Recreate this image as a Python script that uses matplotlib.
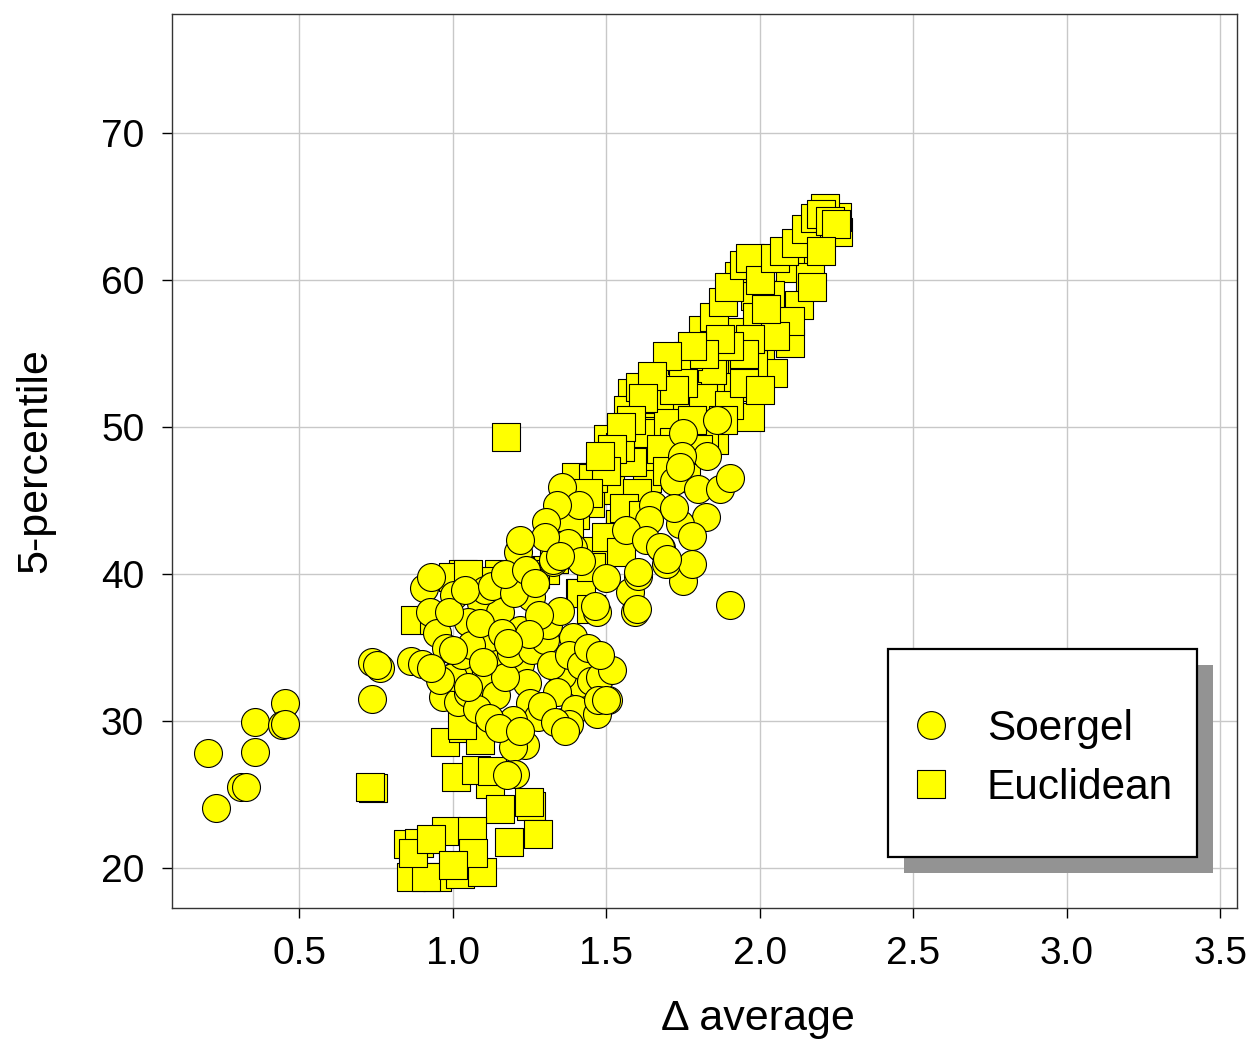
import matplotlib
matplotlib.use("Agg")
import matplotlib.pyplot as plt
from matplotlib.patches import Rectangle
from matplotlib.lines import Line2D

plt.rcParams['font.family'] = ['Liberation Sans', 'DejaVu Sans']

# Soergel (circles)
soergel_x = [0.205, 0.23, 0.312, 0.327, 0.358, 0.358, 0.455, 0.444, 0.455, 0.738, 0.763, 0.738, 0.755,
             0.866, 0.902, 0.907, 0.929, 0.926, 1.005, 1.094, 1.154, 1.105, 1.051, 1.138, 1.122, 1.219,
             1.07, 1.018, 0.969, 1.018, 1.051, 1.241, 1.252, 1.277, 1.198, 1.236, 1.198, 1.203, 1.176,
             1.361, 1.393, 1.464, 1.507, 1.448, 1.415, 1.355, 1.469, 1.578, 1.605, 1.5, 1.68, 1.393,
             1.594, 1.214, 1.328, 1.225, 1.257, 1.219,
             0.95, 0.98, 1.0, 1.03, 1.06, 1.09, 1.11, 1.14, 1.17, 1.19, 1.08, 1.12, 1.15, 1.22, 1.26,
             1.3, 1.32, 1.34, 1.29, 1.31, 1.35, 1.28, 1.38, 1.42, 1.45, 1.4, 1.38, 1.44, 1.48, 1.52,
             1.47, 0.96, 0.93, 1.0, 1.16, 1.25, 1.1, 1.05, 0.99, 1.04, 1.13, 1.2, 1.17, 1.24, 1.27,
             1.18, 1.334, 1.366, 1.474, 1.5, 1.48,
             1.358, 1.413, 1.341, 1.306, 1.377, 1.328, 1.42, 1.605, 1.464, 1.86, 1.75, 1.828, 1.746,
             1.721, 1.8, 1.872, 1.904, 1.652, 1.826, 1.741, 1.779, 1.641, 1.565, 1.629, 1.676, 1.752,
             1.694, 1.779, 1.904, 1.6, 1.7, 1.72, 1.74, 1.3, 1.35, 1.22]
soergel_y = [27.8, 24.1, 25.5, 25.5, 27.9, 29.9, 31.2, 29.7, 29.8, 34.0, 33.6, 31.5, 33.8,
             34.1, 33.9, 39.07, 39.8, 37.4, 38.6, 38.0, 37.4, 38.9, 36.75, 34.7, 35.7, 33.9,
             33.5, 33.35, 31.65, 31.3, 31.9, 32.6, 31.2, 30.3, 30.1, 28.4, 28.25, 26.4, 26.3,
             29.95, 35.7, 34.25, 31.4, 31.2, 32.6, 33.1, 37.4, 38.8, 39.9, 39.7, 41.75, 41.75,
             37.4, 41.5, 40.8, 39.9, 38.45, 36.2,
             36.0, 35.0, 33.0, 34.5, 35.2, 36.7, 32.5, 31.8, 33.0, 34.6, 30.8, 30.2, 29.5, 29.3, 34.8,
             35.5, 33.8, 32.0, 31.0, 36.5, 37.5, 37.2, 34.5, 33.8, 32.7, 30.8, 29.8, 35.0, 33.0, 33.5,
             30.5, 32.8, 33.6, 34.8, 36.0, 35.9, 34.0, 32.3, 37.4, 38.9, 39.2, 38.7, 40.0, 40.3, 39.4,
             35.3, 29.9, 29.3, 31.4, 31.4, 34.5,
             45.9, 44.7, 44.7, 43.55, 42.1, 40.95, 40.9, 40.15, 37.8, 50.5, 49.6, 48.0, 48.0,
             46.3, 45.8, 45.8, 46.5, 44.7, 43.9, 43.4, 42.6, 43.7, 43.0, 42.3, 41.85, 39.55,
             40.7, 40.7, 37.9, 37.6, 41.0, 44.5, 47.3, 42.5, 41.2, 42.3]

# Euclidean (squares)
euclid_x = [0.741, 0.73, 0.977, 1.035, 1.011, 1.122, 1.154, 1.256, 1.185, 1.277, 0.855, 0.89,
            0.98, 1.062, 0.866, 0.95, 1.024, 1.095, 1.066, 0.915, 0.87, 0.93, 1.0, 1.078, 1.089,
            1.13, 1.03, 1.25, 0.877, 1.035, 1.0, 0.94, 1.415,
            1.174,
            1.703, 1.893, 1.759, 1.67, 1.969, 1.507, 1.589, 1.462, 1.632, 1.545, 1.442, 1.42,
            2.257, 2.195, 2.252, 2.214, 2.143, 2.1, 2.165, 1.934, 2.035, 1.986, 2.127, 1.931,
            1.815, 1.991, 2.072, 1.893, 1.85, 2.002, 2.1, 1.763, 1.806, 1.926, 2.045, 1.747,
            1.81, 1.98, 1.839, 1.583, 1.573, 1.665, 1.611, 1.545, 1.654, 1.403, 1.513, 1.448,
            1.545, 1.371, 1.469, 1.844, 1.768, 1.676, 1.763, 1.817, 1.611, 1.638, 1.703, 1.85,
            1.584, 1.459, 1.545,
            1.85, 1.88, 1.9, 1.95, 1.97, 2.0, 2.05, 2.08, 2.12, 2.15, 2.18, 2.2, 2.23, 2.25, 2.2,
            2.17, 2.1, 2.05, 2.02, 1.97, 1.95, 1.9, 1.87, 1.82, 1.78, 1.75, 1.72, 1.7, 1.65, 1.62,
            1.58, 1.55, 1.52, 1.5, 1.48, 1.44, 1.4, 1.38, 1.35, 1.33, 1.3, 1.27, 1.25, 1.22, 1.15,
            1.1, 1.05, 1.9, 1.95, 2.0, 1.88, 1.82, 1.78, 1.72, 1.68, 1.6, 1.56, 1.5, 1.45, 1.55,
            1.62, 1.7, 1.76, 1.8, 1.45]
euclid_y = [25.46, 25.5, 28.6, 29.5, 26.2, 25.7, 24.0, 24.2, 21.8, 22.3, 21.6, 21.7,
            22.5, 22.5, 19.4, 19.4, 19.6, 19.7, 21.0, 19.4, 21.0, 22.0, 20.2, 26.7, 28.7,
            26.6, 29.7, 24.5, 36.9, 40.0, 39.8, 36.9, 38.7,
            49.3,
            53.9, 54.3, 51.95, 51.2, 50.7, 49.2, 47.75, 46.6, 46.5, 43.2, 41.4, 38.7,
            63.3, 63.2, 64.3, 64.9, 61.3, 60.8, 60.2, 60.3, 59.0, 58.9, 58.3, 56.5,
            56.6, 57.5, 57.05, 54.55, 53.9, 55.0, 55.7, 53.75, 51.8, 52.75, 53.65, 54.55,
            53.5, 54.3, 53.0, 52.3, 51.15, 50.0, 49.7, 47.75, 48.0, 46.6, 45.7, 44.8,
            43.4, 42.5, 41.6, 53.9, 54.8, 52.1, 52.1, 51.95, 52.7, 49.6, 50.25, 49.1,
            47.6, 46.5, 48.65,
            57.5, 58.5, 59.5, 61.0, 61.5, 60.0, 61.5, 62.0, 62.5, 63.5, 64.2, 64.5, 64.0, 63.8, 62.0,
            59.5, 57.2, 56.2, 58.0, 56.0, 55.0, 55.5, 56.0, 55.0, 55.5, 53.0, 52.5, 54.8, 53.5, 52.0,
            50.5, 50.0, 48.5, 47.0, 48.0, 45.5, 44.0, 43.2, 42.0, 41.0, 40.3, 40.0, 39.5, 40.2, 40.0,
            39.5, 40.0, 51.5, 53.0, 52.5, 50.5, 49.5, 50.5, 49.0, 48.5, 45.5, 44.5, 42.5, 40.5, 41.5,
            44.0, 47.0, 46.5, 48.5, 37.6]

x_ticks = [0.5, 1.0, 1.5, 2.0, 2.5, 3.0, 3.5]
y_ticks = [20, 30, 40, 50, 60, 70]

W, H = 1254, 1042
fig = plt.figure(figsize=(W / 100, H / 100), dpi=100)
ax = fig.add_axes([172 / W, 1 - 908 / H, (1237 - 172) / W, (908 - 14) / H])

# squares first so circles sit on top
ax.scatter(euclid_x, euclid_y, marker='s', s=405, c='#ffff00', edgecolors='black',
           linewidths=0.8, zorder=3)
ax.scatter(soergel_x, soergel_y, marker='o', s=405, c='#ffff00', edgecolors='black',
           linewidths=0.8, zorder=4)

ax.set_xlim(0.0863, 3.555)
ax.set_ylim(17.28, 78.1)
ax.set_xticks(x_ticks)
ax.set_xticklabels([f"{v:.1f}" for v in x_ticks])
ax.set_yticks(y_ticks)
ax.grid(True, color='#c8c8c8', linewidth=1.0)
ax.set_axisbelow(True)
for sp in ax.spines.values():
    sp.set_color('#333333')
    sp.set_linewidth(1.0)
ax.tick_params(direction='out', length=7, width=1, labelsize=28, pad=13, color='black')

ax.set_xlabel("Δ average", fontsize=31)
ax.xaxis.set_label_coords(0.55, -0.102)
ax.set_ylabel("5-percentile", fontsize=31)
ax.yaxis.set_label_coords(-0.110, 0.5)

# legend box with offset shadow
ax.add_patch(Rectangle((0.6873, 0.0391), 0.2902, 0.2327, transform=ax.transAxes,
                       facecolor='#939393', edgecolor='none', zorder=10))
ax.add_patch(Rectangle((0.6723, 0.0570), 0.2901, 0.2327, transform=ax.transAxes,
                       facecolor='white', edgecolor='black', linewidth=1.6, zorder=11))
handles = [Line2D([], [], marker='o', linestyle='none', markersize=20, markerfacecolor='#ffff00',
                  markeredgecolor='black', markeredgewidth=0.8),
           Line2D([], [], marker='s', linestyle='none', markersize=20, markerfacecolor='#ffff00',
                  markeredgecolor='black', markeredgewidth=0.8)]
leg = ax.legend(handles, ["Soergel", "Euclidean"], loc='center',
                bbox_to_anchor=(0.8163, 0.1673), frameon=False, fontsize=30.5,
                handlelength=1.0, handletextpad=0.82, labelspacing=0.43, borderpad=0)
leg.set_zorder(12)

fig.savefig("out.png", dpi=100)
